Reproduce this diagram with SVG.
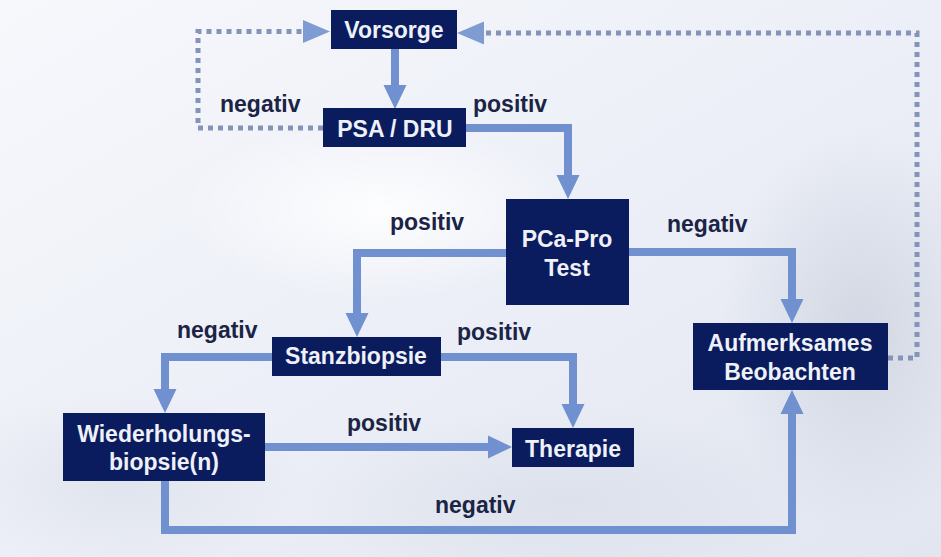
<svg xmlns="http://www.w3.org/2000/svg" width="941" height="557" viewBox="0 0 941 557">
<defs>
<linearGradient id="bg" x1="0" y1="0" x2="1" y2="1">
<stop offset="0" stop-color="#f7f8fc"/>
<stop offset="0.5" stop-color="#eceff7"/>
<stop offset="1" stop-color="#e2e6f0"/>
</linearGradient>
<radialGradient id="cloud1" cx="0.5" cy="0.5" r="0.5">
<stop offset="0" stop-color="#c9cfdc" stop-opacity="0.7"/>
<stop offset="1" stop-color="#c9cfdc" stop-opacity="0"/>
</radialGradient>
<radialGradient id="cloud2" cx="0.5" cy="0.5" r="0.5">
<stop offset="0" stop-color="#ffffff" stop-opacity="0.9"/>
<stop offset="1" stop-color="#ffffff" stop-opacity="0"/>
</radialGradient>
<marker id="ah" markerUnits="userSpaceOnUse" markerWidth="24" markerHeight="24" refX="0" refY="11.5" orient="auto" viewBox="0 0 24 23">
<path d="M0,0 L24,11.5 L0,23 Z" fill="#7090cf"/>
</marker>
<marker id="ahd" markerUnits="userSpaceOnUse" markerWidth="28" markerHeight="24" refX="0" refY="11.5" orient="auto" viewBox="0 0 28 23">
<path d="M0,0 L27,11.5 L0,23 Z" fill="#7e9bd2"/>
</marker>
</defs>
<style>
.box{fill:#0b1c5e;}
.bt{font-family:"Liberation Sans",Arial,sans-serif;font-weight:bold;font-size:23px;fill:#eef1f8;text-anchor:middle;}
.lbl{font-family:"Liberation Sans",Arial,sans-serif;font-weight:bold;font-size:23px;fill:#1c2445;}
.c{fill:none;stroke:#7090cf;stroke-width:8;marker-end:url(#ah);}
.d{fill:none;stroke:#8494b8;stroke-width:5;stroke-dasharray:5 5;marker-end:url(#ahd);}
</style>
<rect width="941" height="557" fill="url(#bg)"/>
<ellipse cx="860" cy="330" rx="140" ry="200" fill="url(#cloud1)"/>
<ellipse cx="560" cy="500" rx="260" ry="90" fill="url(#cloud1)" opacity="0.5"/>
<ellipse cx="120" cy="480" rx="180" ry="90" fill="url(#cloud1)" opacity="0.5"/>
<ellipse cx="380" cy="210" rx="200" ry="90" fill="url(#cloud2)"/>

<g id="connectors">
<path class="d" d="M323,128 H198 V31.5 H303"/>
<path class="d" d="M888,358 H917 V33 H484"/>
<path class="c" d="M395,49 V85"/>
<path class="c" d="M466,128 H568 V175"/>
<path class="c" d="M629,252 H792 V299"/>
<path class="c" d="M506,253 H357 V313"/>
<path class="c" d="M272,357 H165 V389"/>
<path class="c" d="M441,357 H573 V404"/>
<path class="c" d="M265,447 H488"/>
<path class="c" d="M165,481 V530 H792 V414"/>
</g>

<g id="labels">
<text class="lbl" x="220" y="112">negativ</text>
<text class="lbl" x="473" y="112">positiv</text>
<text class="lbl" x="390" y="230">positiv</text>
<text class="lbl" x="667" y="232">negativ</text>
<text class="lbl" x="177" y="338">negativ</text>
<text class="lbl" x="457" y="340">positiv</text>
<text class="lbl" x="347" y="431">positiv</text>
<text class="lbl" x="435" y="513">negativ</text>
</g>

<g id="vorsorge"><rect class="box" x="331" y="10" width="126" height="39"/><text class="bt" x="394" y="38">Vorsorge</text></g>
<g id="psa-dru"><rect class="box" x="323" y="108" width="143" height="39"/><text class="bt" x="395" y="137">PSA / DRU</text></g>
<g id="pca-pro"><rect class="box" x="506" y="199" width="123" height="106"/><text class="bt" x="567" y="247">PCa-Pro</text><text class="bt" x="567" y="276">Test</text></g>
<g id="aufmerksames"><rect class="box" x="693" y="323" width="195" height="67"/><text class="bt" x="790" y="351">Aufmerksames</text><text class="bt" x="790" y="380">Beobachten</text></g>
<g id="stanzbiopsie"><rect class="box" x="272" y="337" width="169" height="39"/><text class="bt" x="356" y="364">Stanzbiopsie</text></g>
<g id="wiederholung"><rect class="box" x="63" y="413" width="202" height="68"/><text class="bt" x="164" y="442">Wiederholungs-</text><text class="bt" x="164" y="470">biopsie(n)</text></g>
<g id="therapie"><rect class="box" x="512" y="428" width="122" height="39"/><text class="bt" x="573" y="457">Therapie</text></g>
</svg>
